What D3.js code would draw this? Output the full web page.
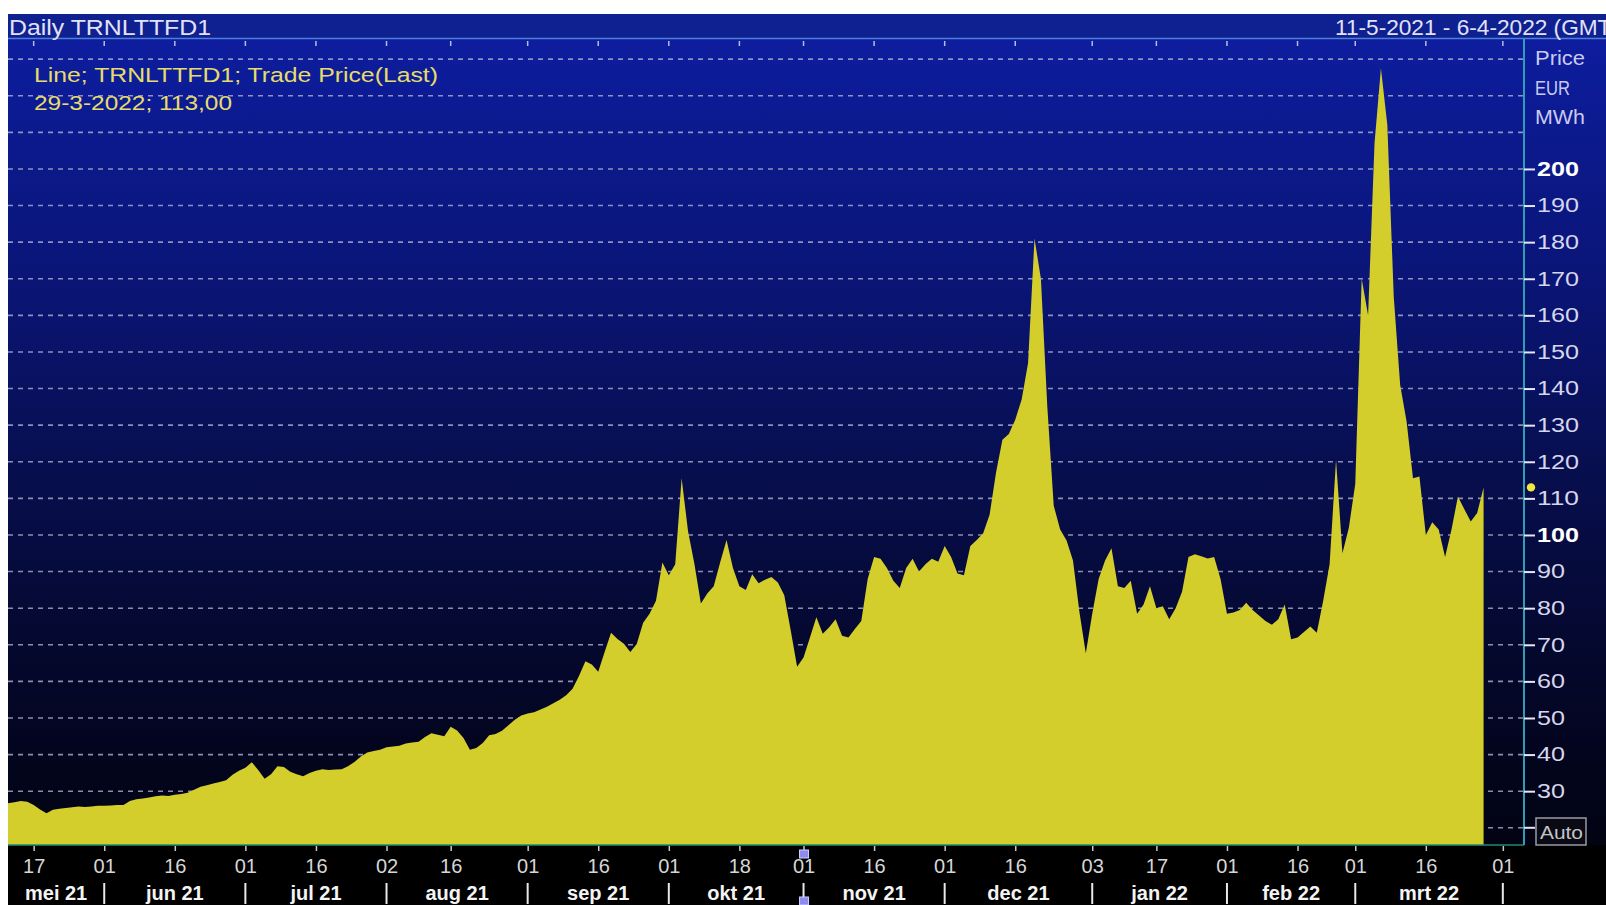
<!DOCTYPE html>
<html><head><meta charset="utf-8">
<script src="https://cdn.jsdelivr.net/npm/d3@7"></script>
<style>
html,body{margin:0;padding:0;background:#fff;overflow:hidden;}
svg{display:block;}
text{font-family:"Liberation Sans",Arial,sans-serif;}
</style></head><body>
<svg id="chart" width="1606" height="905"></svg>
<script>
// ---------- data ----------
const startDate = "2021-05-11";
const endDate = "2022-04-06";
// daily settlement (one value per trading day, from 11-5-2021 to 29-3-2022)
const prices = [
 26.7, 27.0, 27.3, 27.1, 26.2, 25.0, 24.0, 24.9, 25.2, 25.4,
 25.6, 25.8, 25.7, 25.8, 26.0, 26.0, 26.1, 26.2, 26.2, 27.3,
 27.8, 28.0, 28.3, 28.6, 28.8, 28.7, 29.0, 29.2, 29.6, 30.4,
 31.2, 31.6, 32.1, 32.5, 33.0, 34.5, 35.6, 36.4, 37.9, 35.8,
 33.4, 34.6, 36.8, 36.6, 35.3, 34.6, 34.1, 35.0, 35.6, 36.0,
 35.8, 35.9, 36.0, 36.8, 38.0, 39.5, 40.6, 41.0, 41.3, 42.0,
 42.2, 42.4, 43.0, 43.3, 43.5, 44.8, 45.8, 45.4, 45.0, 47.6,
 46.6, 44.5, 41.3, 41.8, 43.2, 45.3, 45.6, 46.5, 48.0, 49.5,
 50.7, 51.2, 51.6, 52.3, 53.1, 54.0, 55.0, 56.2, 58.0, 61.5,
 65.5, 64.6, 62.6, 68.0, 73.3, 71.6, 70.3, 68.0, 70.2, 76.0,
 78.5, 82.0, 92.5, 89.0, 92.0, 115.5, 101.0, 92.0, 81.3, 84.0,
 86.0, 92.5, 98.6, 91.0, 86.0, 85.0, 89.3, 86.8, 87.8, 88.5,
 87.0, 83.5, 74.0, 64.0, 66.5, 72.0, 77.5, 73.0, 74.8, 77.0,
 72.5, 72.0, 74.3, 76.5, 88.0, 94.0, 93.5, 91.0, 87.5, 85.5,
 91.0, 93.5, 90.0, 92.0, 93.5, 92.7, 97.0, 94.0, 89.5, 89.0,
 97.0, 98.6, 100.5, 105.5, 117.0, 126.0, 127.6, 131.5, 137.0, 147.0,
 181.0, 170.0, 135.0, 108.0, 101.5, 98.5, 93.0, 79.0, 67.7, 78.5,
 88.0, 93.0, 96.4, 86.0, 85.5, 87.5, 78.5, 81.0, 86.0, 80.0,
 80.5, 77.0, 80.0, 84.5, 94.0, 94.7, 94.2, 93.6, 94.0, 88.0,
 78.5, 78.8, 79.5, 81.5, 79.5, 78.0, 76.5, 75.5, 77.0, 81.0,
 71.5, 72.0, 73.5, 75.0, 73.3, 82.0, 92.0, 120.5, 95.0, 102.0,
 114.0, 170.0, 160.0, 207.0, 227.5, 212.0, 165.0, 141.0, 131.0, 115.5,
 116.0, 100.0, 103.5, 101.5, 94.0, 101.5, 110.5, 107.0, 103.7, 106.0,
 113.0
];
const priceTicks = [30,40,50,60,70,80,90,100,110,120,130,140,150,160,170,180,190,200];
const boldTicks = [100,200];
const gridValues = [20,30,40,50,60,70,80,90,100,110,120,130,140,150,160,170,180,190,200,210,220,230];
const dayTickDates = ["2021-05-17","2021-06-01","2021-06-16","2021-07-01","2021-07-16","2021-08-02","2021-08-16","2021-09-01","2021-09-16","2021-10-01","2021-10-18","2021-11-01","2021-11-16","2021-12-01","2021-12-16","2022-01-03","2022-01-17","2022-02-01","2022-02-16","2022-03-01","2022-03-16","2022-04-01"];
const dayTickLabels = ["17","01","16","01","16","02","16","01","16","01","18","01","16","01","16","03","17","01","16","01","16","01"];
const monthStartDates = ["2021-06-01","2021-07-01","2021-08-02","2021-09-01","2021-10-01","2021-11-01","2021-12-01","2022-01-03","2022-02-01","2022-03-01","2022-04-01"];
const monthLabels = ["mei 21","jun 21","jul 21","aug 21","sep 21","okt 21","nov 21","dec 21","jan 22","feb 22","mrt 22"];
const titleText = "Daily TRNLTTFD1";
const rangeText = "11-5-2021 - 6-4-2022 (GMT)";
const legendLines = ["Line; TRNLTTFD1; Trade Price(Last)", "29-3-2022; 113,00"];
const unitLines = ["Price","EUR","MWh"];
const lastPrice = 113;

// ---------- layout ----------
const L = 8, TOPBAR = 14, PT = 38.5, PB = 845, AX = 1524, W = 1606, H = 905;
const svg = d3.select("#chart");

const parse = d3.timeParse("%Y-%m-%d");
const fmt = d3.timeFormat("%Y-%m-%d");
const tradingDays = d3.timeDay.range(parse(startDate), d3.timeDay.offset(parse(endDate), 1))
  .filter(d => d.getDay() !== 0 && d.getDay() !== 6);
const idx = new Map(tradingDays.map((d, i) => [fmt(d), i]));

const x = d3.scaleLinear().domain([0, tradingDays.length - 1 + 0.3]).range([L, AX]);
const y = d3.scaleLinear().domain([15.3, 235.5]).range([PB, 39]);

// ---------- background ----------
const defs = svg.append("defs");
const grad = defs.append("linearGradient").attr("id", "bg")
  .attr("gradientUnits", "userSpaceOnUse").attr("x1", 0).attr("y1", PT).attr("x2", 0).attr("y2", PB);
[[0, "#0d1d9e"], [0.3, "#0a1576"], [0.55, "#070e4c"], [0.8, "#040728"], [1, "#020312"]]
  .forEach(([o, c]) => grad.append("stop").attr("offset", o).attr("stop-color", c));

svg.append("rect").attr("x", 0).attr("y", 0).attr("width", W).attr("height", H).attr("fill", "#ffffff");
svg.append("rect").attr("x", L).attr("y", PT).attr("width", W - L).attr("height", PB - PT).attr("fill", "url(#bg)");
svg.append("rect").attr("x", L).attr("y", TOPBAR).attr("width", W - L).attr("height", PT - TOPBAR).attr("fill", "#0f2090");
svg.append("rect").attr("x", L).attr("y", PB).attr("width", W - L).attr("height", H - PB).attr("fill", "#000000");
svg.append("line").attr("x1", L).attr("x2", W).attr("y1", PT).attr("y2", PT)
  .attr("stroke", "#4f7fd8").attr("stroke-width", 1.6);

// ---------- grid ----------
svg.append("g").selectAll("line").data(gridValues).join("line")
  .attr("x1", L).attr("x2", AX).attr("y1", d => y(d)).attr("y2", d => y(d))
  .attr("stroke", "#aeb0d0").attr("stroke-opacity", 0.8).attr("stroke-width", 1.6)
  .attr("stroke-dasharray", "5,5");

// ---------- area ----------
const area = d3.area().x((d, i) => x(i)).y0(PB).y1(d => y(d));
svg.append("path").datum(prices).attr("d", area).attr("fill", "#d3ce2b");

// ---------- plot border ----------
svg.append("line").attr("x1", L).attr("x2", AX).attr("y1", PB).attr("y2", PB)
  .attr("stroke", "#1f8a7a").attr("stroke-width", 1.6);
svg.append("line").attr("x1", AX).attr("x2", AX).attr("y1", PT).attr("y2", PB)
  .attr("stroke", "#2e9fb2").attr("stroke-width", 2);

// top tick marks
const tickIdx = dayTickDates.map(d => idx.get(d));
svg.append("g").selectAll("line").data(tickIdx).join("line")
  .attr("x1", d => x(d)).attr("x2", d => x(d)).attr("y1", 41).attr("y2", 46)
  .attr("stroke", "#b8bce0").attr("stroke-width", 1.5);

// ---------- right axis ----------
const yAxis = d3.axisRight(y).tickValues(priceTicks).tickSize(11).tickPadding(2).tickFormat(d3.format("d"));
const ya = svg.append("g").attr("transform", `translate(${AX},0)`).call(yAxis);
ya.select(".domain").remove();
ya.selectAll(".tick line").attr("stroke", "#e6e6f4").attr("stroke-width", 2);
ya.selectAll(".tick text")
  .attr("fill", d => boldTicks.includes(d) ? "#ffffff" : "#d6d6ec")
  .attr("font-weight", d => boldTicks.includes(d) ? "bold" : "normal")
  .attr("font-size", 19.5)
  .attr("font-family", '"Liberation Sans",Arial,sans-serif')
  .attr("textLength", d => String(d).length * 14)
  .attr("lengthAdjust", "spacingAndGlyphs");

// units
svg.append("g").selectAll("text").data(unitLines).join("text")
  .attr("x", 1535).attr("y", (d, i) => 65 + i * 29.5)
  .attr("fill", "#cacaf0").attr("font-size", 19.5)
  .attr("textLength", d => d === "EUR" ? 35 : 50).attr("lengthAdjust", "spacingAndGlyphs")
  .text(d => d);

// Auto box at 20
svg.append("line").attr("x1", AX).attr("x2", AX + 11).attr("y1", y(20)).attr("y2", y(20))
  .attr("stroke", "#e6e6f4").attr("stroke-width", 2);
svg.append("rect").attr("x", 1536).attr("y", 818).attr("width", 50).attr("height", 27)
  .attr("fill", "#0a0a14").attr("stroke", "#9a9aa4").attr("stroke-width", 1.5);
svg.append("text").attr("x", 1540).attr("y", 839).attr("fill", "#c4c4c8").attr("font-size", 18)
  .attr("textLength", 43).attr("lengthAdjust", "spacingAndGlyphs").text("Auto");

// last price marker
svg.append("circle").attr("cx", 1531).attr("cy", y(lastPrice)).attr("r", 4.2).attr("fill", "#f2e640");

// ---------- bottom axis ----------
const xAxis = d3.axisBottom(x).tickValues(tickIdx).tickSize(6).tickFormat((d, i) => dayTickLabels[i]);
const xa = svg.append("g").attr("transform", `translate(0,${PB})`).call(xAxis);
xa.select(".domain").remove();
xa.selectAll(".tick line").attr("stroke", "#c8c8c8").attr("stroke-width", 1.5).attr("y1", 1);
xa.selectAll(".tick text").attr("y", 28).attr("dy", 0)
  .attr("fill", "#d6d6d6").attr("font-size", 20)
  .attr("font-family", '"Liberation Sans",Arial,sans-serif');

// month separators and labels
const sepIdx = monthStartDates.map(d => idx.get(d));
svg.append("g").selectAll("line").data(sepIdx).join("line")
  .attr("x1", d => x(d)).attr("x2", d => x(d)).attr("y1", 883).attr("y2", 904)
  .attr("stroke", "#e8e8e8").attr("stroke-width", 2);
const bounds = [L].concat(sepIdx.map(d => x(d)));
svg.append("g").selectAll("text").data(monthLabels).join("text")
  .attr("x", (d, i) => (bounds[i] + bounds[i + 1]) / 2).attr("y", 900)
  .attr("text-anchor", "middle").attr("fill", "#f4f4f4").attr("font-weight", "bold")
  .attr("font-size", 20).text(d => d);

// event marker icon at 01 nov
const evX = x(idx.get("2021-11-01"));
svg.append("rect").attr("x", evX - 4).attr("y", 850).attr("width", 9).attr("height", 8)
  .attr("fill", "#8c8cf0").attr("stroke", "#d0d0ff").attr("stroke-width", 1);
svg.append("rect").attr("x", evX - 4).attr("y", 897).attr("width", 9).attr("height", 8)
  .attr("fill", "#8c8cf0").attr("stroke", "#d0d0ff").attr("stroke-width", 1);

// ---------- titles & legend ----------
svg.append("text").attr("x", 9).attr("y", 35).attr("fill", "#e2e2f6").attr("font-size", 22.5)
  .attr("textLength", 202).attr("lengthAdjust", "spacingAndGlyphs").text(titleText);
svg.append("text").attr("x", 1335).attr("y", 35).attr("fill", "#e2e2f6").attr("font-size", 21.5)
  .attr("textLength", 284).attr("lengthAdjust", "spacingAndGlyphs")
  .text(rangeText);
svg.append("g").selectAll("text").data(legendLines).join("text")
  .attr("x", 34).attr("y", (d, i) => 81.5 + i * 28)
  .attr("fill", "#e6dc6a").attr("font-size", 20.5)
  .attr("textLength", (d, i) => i === 0 ? 404 : 198).attr("lengthAdjust", "spacingAndGlyphs")
  .text(d => d);
</script>
</body></html>
